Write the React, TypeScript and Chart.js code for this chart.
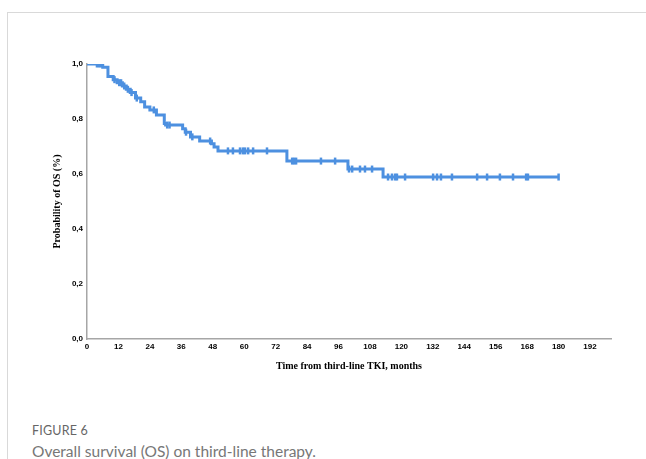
import { useEffect, useRef } from "react";
import { Chart, registerables } from "chart.js";

Chart.register(...registerables);

// Kaplan–Meier estimate: survival after each event time (months)
const eventTimes = [0, 6.0, 8.0, 10.0, 11.5, 13.5, 15.0, 16.5, 18.5, 20.5, 22.0, 24.0, 26.5, 29.5, 30.0, 36.5, 37.5, 39.5, 43.0, 47.5, 48.5, 50.0, 76.3, 99.6, 113.0, 180];
const survival = [1.0, 0.988, 0.955, 0.943, 0.932, 0.92, 0.908, 0.896, 0.876, 0.863, 0.844, 0.833, 0.815, 0.784, 0.778, 0.765, 0.752, 0.735, 0.72, 0.71, 0.698, 0.684, 0.647, 0.618, 0.589, 0.589];

// Censored observations (months)
const censorTimes = [3.8, 4.6, 5.3, 10.5, 12.3, 13.0, 14.2, 15.6, 17.0, 19.0, 25.5, 30.6, 31.5, 37.8, 40.2, 47.0, 53.8, 55.7, 58.4, 59.5, 60.3, 61.5, 63.4, 68.7, 78.3, 79.0, 79.8, 89.3, 94.7, 100.0, 101.2, 104.2, 106.1, 108.8, 114.9, 116.4, 117.6, 118.3, 121.4, 132.1, 133.6, 135.1, 139.3, 148.9, 152.7, 157.6, 162.6, 167.6, 168.3, 180];

const xTickStep = 12;
const yTickStep = 0.2;

const LINE_COLOR = "#4d90e0";

// survival level in force at time t
function levelAt(t: number): number {
  let s = survival[0];
  for (let i = 0; i < eventTimes.length; i++) {
    if (eventTimes[i] <= t) s = survival[i];
  }
  return s;
}

export default function App() {
  const canvasRef = useRef<HTMLCanvasElement | null>(null);

  useEffect(() => {
    const canvas = canvasRef.current;
    if (!canvas) return;
    const curve = eventTimes.map((t, i) => ({ x: t, y: survival[i] }));
    const censored = censorTimes.map((t) => ({ x: t, y: levelAt(t) }));

    const tickFont = { family: "'Liberation Sans', Arial, sans-serif", size: 8, weight: "bold" as const };
    const titleFont = { family: "'Liberation Serif', 'Times New Roman', serif", size: 10, weight: "bold" as const };

    const chart = new Chart(canvas, {
      type: "line",
      data: {
        datasets: [
          {
            label: "OS",
            data: curve,
            borderColor: LINE_COLOR,
            borderWidth: 3,
            stepped: true,
            pointRadius: 0,
            fill: false,
          },
          {
            label: "Censored",
            data: censored,
            showLine: false,
            pointStyle: "line",
            rotation: 90,
            pointRadius: 3.5,
            pointBorderWidth: 2.5,
            pointBorderColor: LINE_COLOR,
            pointBackgroundColor: LINE_COLOR,
          },
        ],
      },
      options: {
        responsive: false,
        animation: false,
        events: [],
        layout: { padding: { left: 0, top: 64, right: 35, bottom: 0 } },
        plugins: { legend: { display: false }, tooltip: { enabled: false } },
        scales: {
          x: {
            type: "linear",
            min: 0,
            max: 200,
            grid: { display: false, drawTicks: false },
            border: { display: true, color: "#a6a6a6", width: 1.5 },
            ticks: {
              stepSize: xTickStep,
              includeBounds: false,
              padding: 3,
              color: "#000",
              font: tickFont,
              maxRotation: 0,
              autoSkip: false,
            },
            title: {
              display: true,
              text: "Time from third-line TKI, months",
              color: "#000",
              font: titleFont,
              padding: { top: 0, bottom: 8 },
            },
            afterFit: (scale: any) => {
              scale.height = 41;
            },
          },
          y: {
            type: "linear",
            min: 0,
            max: 1,
            grid: { display: false, drawTicks: false },
            border: { display: true, color: "#a6a6a6", width: 1.5 },
            ticks: {
              stepSize: yTickStep,
              padding: 4,
              color: "#000",
              font: tickFont,
              callback: (v: any) => Number(v).toFixed(1).replace(".", ","),
            },
            title: {
              display: true,
              text: "Probability of OS (%)",
              color: "#000",
              font: titleFont,
              padding: { top: 51, bottom: 0 },
            },
            afterFit: (scale: any) => {
              scale.width = 87;
            },
          },
        },
      },
    });
    return () => chart.destroy();
  }, []);

  return (
    <div style={{ position: "absolute", left: 0, top: 0, width: 646, height: 459, overflow: "hidden", background: "#fff" }}>
      <div
        style={{
          position: "absolute",
          left: 7,
          top: 12,
          right: 0,
          bottom: 0,
          borderTop: "1px solid #d9d9d9",
          borderLeft: "1px solid #d9d9d9",
        }}
      />
      <canvas ref={canvasRef} width={646} height={380} style={{ position: "absolute", left: 0, top: 0, width: 646, height: 380 }} />
      <div
        style={{
          position: "absolute",
          left: 32,
          top: 423,
          fontFamily: "Lato, 'Open Sans', sans-serif",
          fontSize: 12.5,
          lineHeight: "15px",
          color: "#666",
          letterSpacing: 0.2,
        }}
      >
        FIGURE 6
      </div>
      <div
        style={{
          position: "absolute",
          left: 32,
          top: 442,
          fontFamily: "Lato, 'Open Sans', sans-serif",
          fontSize: 15.5,
          lineHeight: "19px",
          color: "#777",
          whiteSpace: "nowrap",
        }}
      >
        Overall survival (OS) on third-line therapy.
      </div>
    </div>
  );
}
